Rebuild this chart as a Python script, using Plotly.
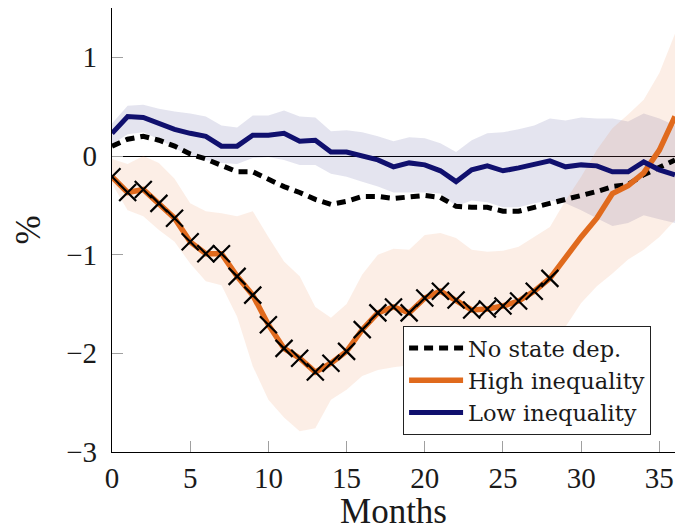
import plotly.graph_objects as go

months = list(range(37))

no_state = [0.10, 0.17, 0.20, 0.16, 0.10, 0.02, -0.03, -0.10, -0.16, -0.16,
            -0.24, -0.31, -0.37, -0.44, -0.49, -0.46, -0.41, -0.41, -0.43, -0.41,
            -0.40, -0.42, -0.51, -0.52, -0.52, -0.56, -0.56, -0.52, -0.48, -0.45,
            -0.40, -0.36, -0.31, -0.29, -0.19, -0.11, -0.04]

high = [-0.21, -0.37, -0.34, -0.48, -0.63, -0.87, -0.99, -0.99, -1.22, -1.41,
        -1.71, -1.95, -2.05, -2.19, -2.10, -1.98, -1.76, -1.59, -1.53, -1.59,
        -1.44, -1.37, -1.46, -1.56, -1.55, -1.52, -1.47, -1.37, -1.24, -1.02,
        -0.82, -0.63, -0.38, -0.30, -0.17, 0.06, 0.40]

high_upper = [-0.03, -0.08, 0.00, -0.07, -0.23, -0.48, -0.56, -0.58, -0.61, -0.56,
              -0.82, -1.07, -1.22, -1.53, -1.64, -1.50, -1.20, -1.00, -0.94, -0.95,
              -0.80, -0.78, -0.83, -0.95, -0.97, -0.96, -0.92, -0.82, -0.72, -0.45,
              -0.21, 0.06, 0.28, 0.42, 0.57, 0.84, 1.24]

high_lower = [-0.28, -0.55, -0.61, -0.75, -0.87, -1.09, -1.27, -1.31, -1.63, -2.13,
              -2.47, -2.65, -2.79, -2.76, -2.47, -2.37, -2.23, -2.17, -2.14, -2.12,
              -2.08, -2.05, -2.03, -2.01, -2.00, -1.98, -1.96, -1.94, -1.90, -1.73,
              -1.49, -1.32, -1.19, -1.05, -0.95, -0.82, -0.65]

low = [0.23, 0.40, 0.39, 0.33, 0.27, 0.23, 0.20, 0.10, 0.10, 0.21,
       0.21, 0.23, 0.15, 0.16, 0.04, 0.04, 0.00, -0.04, -0.11, -0.07,
       -0.09, -0.15, -0.26, -0.14, -0.10, -0.15, -0.12, -0.08, -0.05, -0.11,
       -0.09, -0.10, -0.16, -0.16, -0.06, -0.14, -0.19]

low_upper = [0.33, 0.51, 0.52, 0.48, 0.45, 0.43, 0.40, 0.31, 0.29, 0.41,
             0.41, 0.46, 0.40, 0.39, 0.25, 0.26, 0.24, 0.20, 0.15, 0.19,
             0.18, 0.13, 0.04, 0.16, 0.23, 0.24, 0.27, 0.31, 0.38, 0.36,
             0.39, 0.38, 0.38, 0.35, 0.43, 0.38, 0.31]

low_lower = [0.12, 0.22, 0.24, 0.17, 0.08, 0.00, -0.04, -0.07, -0.08, -0.02,
             -0.01, -0.04, -0.09, -0.09, -0.18, -0.21, -0.26, -0.31, -0.37, -0.37,
             -0.37, -0.38, -0.51, -0.45, -0.47, -0.52, -0.52, -0.48, -0.45, -0.48,
             -0.55, -0.63, -0.71, -0.68, -0.60, -0.64, -0.68]

n_marked = 29  # months 0..28 carry markers

x_ticks = [0, 5, 10, 15, 20, 25, 30, 35]
y_ticks = [-3, -2, -1, 0, 1]

ORANGE = "#e06a1d"
NAVY = "#10106e"
FONT = "Liberation Serif"

fig = go.Figure()

# Low inequality band
fig.add_trace(go.Scatter(x=months, y=low_lower, mode="lines", line=dict(width=0),
                         showlegend=False, hoverinfo="skip"))
fig.add_trace(go.Scatter(x=months, y=low_upper, mode="lines", line=dict(width=0),
                         fill="tonexty", fillcolor="rgba(16,16,112,0.113)",
                         showlegend=False, hoverinfo="skip"))
# High inequality band
fig.add_trace(go.Scatter(x=months, y=high_lower, mode="lines", line=dict(width=0),
                         showlegend=False, hoverinfo="skip"))
fig.add_trace(go.Scatter(x=months, y=high_upper, mode="lines", line=dict(width=0),
                         fill="tonexty", fillcolor="rgba(230,113,47,0.12)",
                         showlegend=False, hoverinfo="skip"))

fig.add_trace(go.Scatter(x=months, y=no_state, mode="lines", name="No state dep.",
                         line=dict(color="black", width=5, dash="9px,6px")))
fig.add_trace(go.Scatter(x=months, y=high, mode="lines", name="High inequality",
                         line=dict(color=ORANGE, width=5.5)))
fig.add_trace(go.Scatter(x=months[:n_marked], y=high[:n_marked], mode="markers",
                         marker=dict(symbol="x-thin-open", size=17, color="black",
                                     line=dict(color="black", width=2.2)),
                         showlegend=False))
fig.add_trace(go.Scatter(x=months, y=low, mode="lines", name="Low inequality",
                         line=dict(color=NAVY, width=5)))

fig.update_layout(
    width=675, height=531,
    margin=dict(l=112, r=0, t=8, b=79),
    paper_bgcolor="white", plot_bgcolor="white",
    font=dict(family=FONT, size=29, color="#1a1a1a"),
    legend=dict(x=0.517, y=0.284, xanchor="left", yanchor="top",
                traceorder="normal",
                bgcolor="white", bordercolor="#222", borderwidth=1,
                font=dict(family="DejaVu Serif", size=22.5, color="#1a1a1a"),
                tracegroupgap=0, itemwidth=54),
    xaxis=dict(range=[0, 36], tickvals=x_ticks, showgrid=False, zeroline=False,
               showline=True, linecolor="black", linewidth=1.2,
               ticks="inside", ticklen=11, tickcolor="#a0a0a0", tickwidth=1,
               title=dict(text="Months", standoff=13),
               tickfont=dict(size=29)),
    yaxis=dict(range=[-3, 1.5], tickvals=y_ticks, showgrid=False,
               zeroline=True, zerolinecolor="black", zerolinewidth=1,
               showline=True, linecolor="black", linewidth=1.2,
               ticks="inside", ticklen=11, tickcolor="#a0a0a0", tickwidth=1,
               ticklabelstandoff=8, automargin=False,
               title=dict(text="%", standoff=14),
               tickfont=dict(size=29)),
)

fig.write_html("out.html")
